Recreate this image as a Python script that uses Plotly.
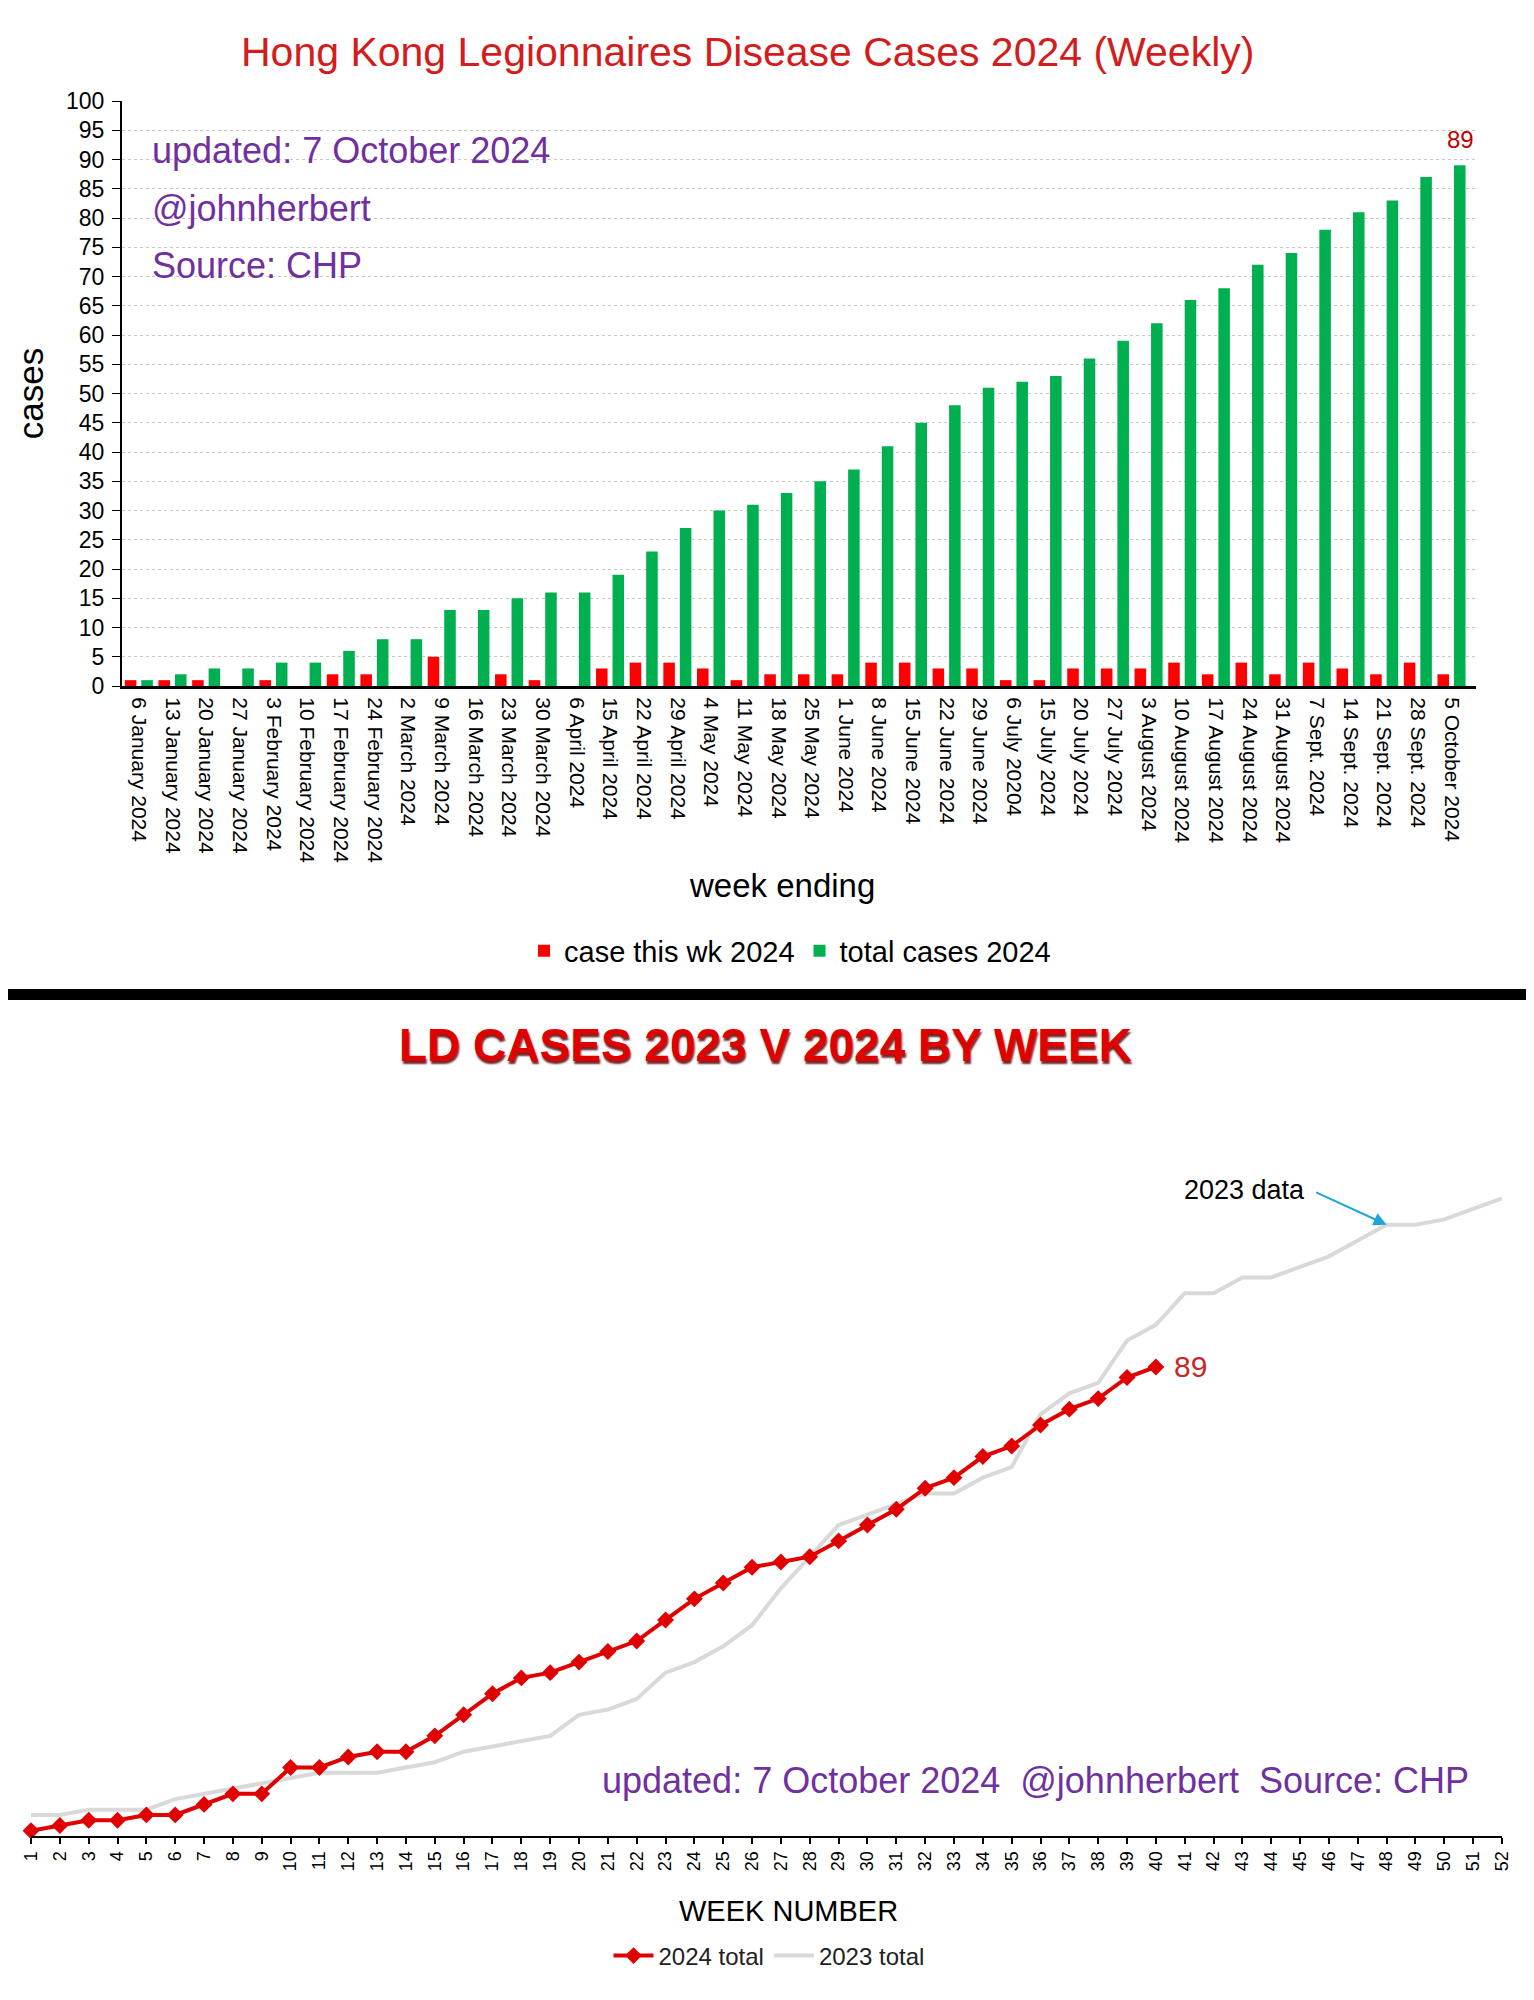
import plotly.graph_objects as go

# ---------------- data ----------------
week_ending = [
    "6 January 2024", "13 January 2024", "20 January 2024", "27 January 2024",
    "3 February 2024", "10 February 2024", "17 February 2024", "24 February 2024",
    "2 March 2024", "9 March 2024", "16 March 2024", "23 March 2024", "30 March 2024",
    "6 April 2024", "15 April 2024", "22 April 2024", "29 April 2024",
    "4 May 2024", "11 May 2024", "18 May 2024", "25 May 2024",
    "1 June 2024", "8 June 2024", "15 June 2024", "22 June 2024", "29 June 2024",
    "6 July 20204", "15 July 2024", "20 July 2024", "27 July 2024",
    "3 August 2024", "10 August 2024", "17 August 2024", "24 August 2024", "31 August 2024",
    "7 Sept. 2024", "14 Sept. 2024", "21 Sept. 2024", "28 Sept. 2024", "5 October 2024",
]
cases_this_week_2024 = [1, 1, 1, 0, 1, 0, 2, 2, 0, 5, 0, 2, 1, 0, 3, 4, 4, 3, 1, 2,
                        2, 2, 4, 4, 3, 3, 1, 1, 3, 3, 3, 4, 2, 4, 2, 4, 3, 2, 4, 2]
total_cases_2024 = [1, 2, 3, 3, 4, 4, 6, 8, 8, 13, 13, 15, 16, 16, 19, 23, 27, 30, 31, 33,
                    35, 37, 41, 45, 48, 51, 52, 53, 56, 59, 62, 66, 68, 72, 74, 78, 81, 83, 87, 89]

week_numbers_2024 = list(range(1, 41))
week_numbers_2023 = list(range(1, 53))
total_2023 = [4, 4, 5, 5, 5, 7, 8, 9, 10, 11, 12, 12, 12, 13, 14, 16, 17, 18, 19, 23,
              24, 26, 31, 33, 36, 40, 47, 53, 59, 61, 63, 65, 65, 68, 70, 80, 84, 86, 94, 97,
              103, 103, 106, 106, 108, 110, 113, 116, 116, 117, 119, 121]
week_tick_labels = [str(w) for w in week_numbers_2023]

credit_lines = ["updated: 7 October 2024", "@johnherbert", "Source: CHP"]

# ---------------- helpers ----------------
# The page body has an 8px margin, so the figure starts at (8, 8) in the window.
PAGE_W, PAGE_H = 1534, 2000
OFF = 8
W, H = PAGE_W - OFF, PAGE_H - OFF
def px(x):
    return (x - OFF) / W
def py(y):
    return 1 - (y - OFF) / H

FONT = "Arial, Liberation Sans, sans-serif"
PURPLE = "#7030a0"

fig = go.Figure()

# ---------------- top chart: bars ----------------
fig.add_trace(go.Bar(
    x=week_ending, y=cases_this_week_2024, name="case this wk 2024",
    marker=dict(color="#ff0000", line=dict(width=0)),
    xaxis="x", yaxis="y", legend="legend",
))
fig.add_trace(go.Bar(
    x=week_ending, y=total_cases_2024, name="total cases 2024",
    marker=dict(color="#00b050", line=dict(width=0)),
    xaxis="x", yaxis="y", legend="legend",
))

# ---------------- bottom chart: lines ----------------
fig.add_trace(go.Scatter(
    x=week_numbers_2023, y=total_2023, name="2023 total", mode="lines",
    line=dict(color="#d9d9d9", width=4), legendrank=2,
    xaxis="x2", yaxis="y2", legend="legend2", cliponaxis=False,
))
fig.add_trace(go.Scatter(
    x=week_numbers_2024, y=total_cases_2024, name="2024 total", mode="lines+markers",
    line=dict(color="#e00000", width=4),
    marker=dict(symbol="diamond", size=13, color="#e00000"), legendrank=1,
    xaxis="x2", yaxis="y2", legend="legend2", cliponaxis=False,
))

y2_top_px = 1100
y2_bottom_px = 1836
y2_max = (y2_bottom_px - y2_top_px) / 5.27

fig.update_layout(
    width=W, height=H,
    margin=dict(l=0, r=0, t=0, b=0, autoexpand=False),
    paper_bgcolor="white", plot_bgcolor="white",
    font=dict(family=FONT, color="black"),
    barmode="group", bargap=0.02, bargroupgap=0.30,
    showlegend=True,
    xaxis=dict(
        domain=[px(122), px(1476)], anchor="y", type="category", automargin=False,
        tickangle=90, tickfont=dict(size=21, family=FONT, color="black"),
        ticklabelstandoff=4,
        showline=True, linecolor="black", linewidth=3, ticks="",
        showgrid=False, zeroline=False,
    ),
    yaxis=dict(
        domain=[py(686), py(101)], anchor="x", range=[0, 100], dtick=5, automargin=False,
        showgrid=True, gridcolor="#c5ccbf", griddash="dot", gridwidth=1,
        showline=True, linecolor="black", linewidth=2,
        ticks="outside", ticklen=8, tickcolor="black", ticklabelstandoff=3,
        tickfont=dict(size=23, family=FONT, color="black"), zeroline=False,
        title=dict(text="cases", font=dict(size=35, family=FONT), standoff=12),
    ),
    xaxis2=dict(
        domain=[px(31), px(1502)], anchor="y2", range=[1, 52], automargin=False,
        tickmode="array", tickvals=week_numbers_2023, ticktext=week_tick_labels,
        tickangle=-90, tickfont=dict(size=18, family=FONT, color="black"),
        ticks="outside", ticklen=6, tickcolor="black", tickwidth=1.5,
        showline=True, linecolor="black", linewidth=2,
        showgrid=False, zeroline=False,
    ),
    yaxis2=dict(
        domain=[py(y2_bottom_px), py(y2_top_px)], anchor="x2", range=[0, y2_max],
        visible=False, automargin=False,
    ),
    legend=dict(
        orientation="h", x=px(790), xanchor="center", y=py(951), yanchor="middle",
        font=dict(size=29, family=FONT, color="black"), itemwidth=30,
        bgcolor="rgba(0,0,0,0)", traceorder="normal",
    ),
    legend2=dict(
        orientation="h", x=px(769), xanchor="center", y=py(1956), yanchor="middle",
        font=dict(size=24, family=FONT, color="#222222"), itemwidth=40,
        bgcolor="rgba(0,0,0,0)", traceorder="normal",
    ),
    shapes=[
        dict(type="rect", xref="paper", yref="paper", x0=0, x1=1,
             y0=py(1000), y1=py(989), fillcolor="black", line=dict(width=0)),
    ],
)

annotations = [
    dict(text="Hong Kong Legionnaires Disease Cases 2024 (Weekly)",
         xref="paper", yref="paper", x=px(747), y=py(52), xanchor="center", yanchor="middle",
         showarrow=False, font=dict(family=FONT, size=41, color="#d41c1c")),
    dict(text=str(total_cases_2024[-1]), xref="x", yref="y",
         x=week_ending[-1], y=total_cases_2024[-1], xanchor="center", yanchor="bottom",
         xshift=9, yshift=10, showarrow=False,
         font=dict(family=FONT, size=24, color="#c00000")),
    dict(text="week ending", xref="paper", yref="paper", x=px(782), y=py(886),
         xanchor="center", yanchor="middle", showarrow=False,
         font=dict(family=FONT, size=33, color="black")),
    dict(text="LD CASES 2023 V 2024 BY WEEK",
         xref="paper", yref="paper", x=px(765), y=py(1045), xanchor="center", yanchor="middle",
         showarrow=False,
         font=dict(family=FONT, size=46, color="#e00000", weight="bold",
                   shadow="1px 3px 2px rgba(90,0,0,0.85)")),
    dict(text="\u00a0\u00a0".join(credit_lines),
         xref="paper", yref="paper", x=px(600), y=py(1780), xanchor="left", yanchor="middle",
         showarrow=False, font=dict(family=FONT, size=36, color=PURPLE)),
    dict(text="2023 data", xref="x2", yref="y2", x=45.25, y=122.6,
         xanchor="right", yanchor="middle", showarrow=False,
         font=dict(family=FONT, size=27, color="black")),
    dict(text="", xref="x2", yref="y2", x=week_numbers_2023[47], y=total_2023[47],
         showarrow=True, ax=-72, ay=-33, arrowcolor="#1ea5dc", arrowwidth=2,
         arrowhead=2, arrowsize=1.3),
    dict(text=str(total_cases_2024[-1]), xref="x2", yref="y2",
         x=week_numbers_2024[-1], y=total_cases_2024[-1], xanchor="left", yanchor="middle",
         xshift=16, showarrow=False, font=dict(family=FONT, size=30, color="#c62828")),
    dict(text="WEEK NUMBER", xref="paper", yref="paper", x=px(788), y=py(1911),
         xanchor="center", yanchor="middle", showarrow=False,
         font=dict(family=FONT, size=29, color="black")),
]
for line_text, y_px in zip(credit_lines, [150, 208, 265]):
    annotations.append(dict(
        text=line_text, xref="paper", yref="paper", x=px(150), y=py(y_px),
        xanchor="left", yanchor="middle", align="left", showarrow=False,
        font=dict(family=FONT, size=36, color=PURPLE)))
fig.update_layout(annotations=annotations)

fig.write_html("out.html")
